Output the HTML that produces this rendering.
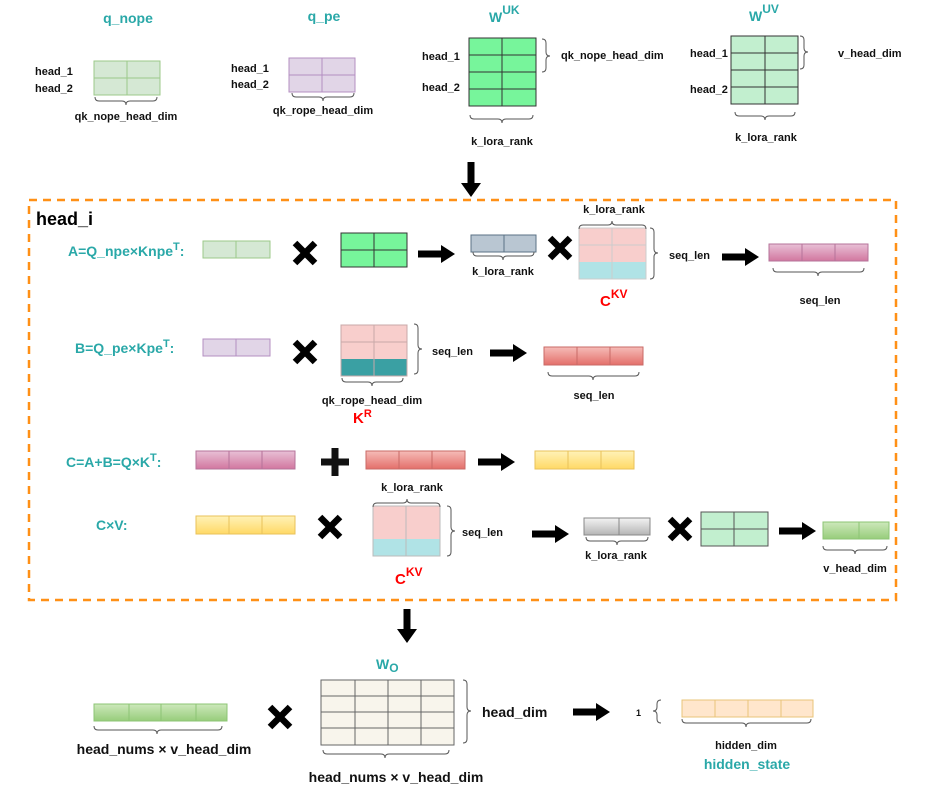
<!DOCTYPE html>
<html><head><meta charset="utf-8"><style>
html,body{margin:0;padding:0;background:#fff;}
svg{display:block;}
text{font-family:"Liberation Sans",Arial,sans-serif;font-weight:bold;}
.t{fill:#2aa8a8;font-size:14px;}
.k{fill:#111;font-size:11px;}
.r{fill:#ff0000;font-size:15px;}
.br{fill:none;stroke:#555;stroke-width:1;}
</style></head><body>
<svg width="926" height="806" viewBox="0 0 926 806" xmlns="http://www.w3.org/2000/svg">
<defs>
<linearGradient id="gM" x1="0" y1="0" x2="0" y2="1"><stop offset="0" stop-color="#e8c0d6"/><stop offset="1" stop-color="#d2779f"/></linearGradient>
<linearGradient id="gR" x1="0" y1="0" x2="0" y2="1"><stop offset="0" stop-color="#f6bcb8"/><stop offset="1" stop-color="#e46f6a"/></linearGradient>
<linearGradient id="gY" x1="0" y1="0" x2="0" y2="1"><stop offset="0" stop-color="#fff2b8"/><stop offset="1" stop-color="#ffd966"/></linearGradient>
<linearGradient id="gG" x1="0" y1="0" x2="0" y2="1"><stop offset="0" stop-color="#f3f3f3"/><stop offset="1" stop-color="#b5b5b5"/></linearGradient>
<linearGradient id="gN" x1="0" y1="0" x2="0" y2="1"><stop offset="0" stop-color="#cde8bb"/><stop offset="1" stop-color="#97cd7b"/></linearGradient>
</defs>

<!-- TOP ROW -->
<text class="t" x="128" y="23" text-anchor="middle" font-size="15">q_nope</text>
<text class="k" x="35" y="75">head_1</text>
<text class="k" x="35" y="92">head_2</text>
<g fill="#d5e8d4" stroke="#9cc98a" stroke-width="1">
<rect x="94" y="61" width="66" height="34"/><line x1="94" y1="78" x2="160" y2="78"/><line x1="127" y1="61" x2="127" y2="95"/></g>
<path class="br" d="M95,97 Q95,101 99,101 L122,101 Q126,101 126,105 Q126,101 130,101 L153,101 Q157,101 157,97"/>
<text class="k" x="126" y="120" text-anchor="middle">qk_nope_head_dim</text>

<text class="t" x="324" y="21" text-anchor="middle" font-size="15">q_pe</text>
<text class="k" x="231" y="72">head_1</text>
<text class="k" x="231" y="88">head_2</text>
<g fill="#e1d5e7" stroke="#b48fc2" stroke-width="1">
<rect x="289" y="58" width="66" height="34"/><line x1="289" y1="75" x2="355" y2="75"/><line x1="322" y1="58" x2="322" y2="92"/></g>
<path class="br" d="M292,93 Q292,97 296,97 L319,97 Q323,97 323,101 Q323,97 327,97 L350,97 Q354,97 354,93"/>
<text class="k" x="323" y="114" text-anchor="middle">qk_rope_head_dim</text>

<text class="t" x="489" y="22" font-size="18">W<tspan font-size="12" dy="-8">UK</tspan></text>
<text class="k" x="422" y="60">head_1</text>
<text class="k" x="422" y="91">head_2</text>
<g fill="#77f59b" stroke="#333" stroke-width="1">
<rect x="469" y="38" width="67" height="68"/><line x1="469" y1="55" x2="536" y2="55"/><line x1="469" y1="72" x2="536" y2="72"/><line x1="469" y1="89" x2="536" y2="89"/><line x1="502" y1="38" x2="502" y2="106"/></g>
<path class="br" d="M542,39 Q546,39 546,43 L546,52 Q546,56 550,56 Q546,56 546,60 L546,68 Q546,72 542,72"/>
<text class="k" x="561" y="59">qk_nope_head_dim</text>
<path class="br" d="M470,115 Q470,119 474,119 L498,119 Q502,119 502,123 Q502,119 506,119 L529,119 Q533,119 533,115"/>
<text class="k" x="502" y="145" text-anchor="middle">k_lora_rank</text>

<text class="t" x="749" y="21" font-size="18">W<tspan font-size="12" dy="-8">UV</tspan></text>
<text class="k" x="690" y="57">head_1</text>
<text class="k" x="690" y="93">head_2</text>
<g fill="#c2efcf" stroke="#333" stroke-width="1">
<rect x="731" y="36" width="67" height="68"/><line x1="731" y1="53" x2="798" y2="53"/><line x1="731" y1="70" x2="798" y2="70"/><line x1="731" y1="87" x2="798" y2="87"/><line x1="765" y1="36" x2="765" y2="104"/></g>
<path class="br" d="M800,36 Q804,36 804,40 L804,48 Q804,52 808,52 Q804,52 804,56 L804,65 Q804,69 800,69"/>
<text class="k" x="838" y="57">v_head_dim</text>
<path class="br" d="M735,112 Q735,116 739,116 L761,116 Q765,116 765,120 Q765,116 769,116 L791,116 Q795,116 795,112"/>
<text class="k" x="766" y="141" text-anchor="middle">k_lora_rank</text>

<!-- down arrow -->
<path transform="translate(471,162) rotate(90)" d="M0,-3.5 L21,-3.5 L21,-10 L35,0 L21,10 L21,3.5 L0,3.5Z" fill="#000"/>

<!-- dashed box -->
<rect x="29" y="200" width="867" height="400" fill="none" stroke="#ff9016" stroke-width="2.5" stroke-dasharray="8,6"/>
<text x="36" y="225" font-size="18" fill="#000">head_i</text>

<!-- ROW A -->
<text class="t" x="68" y="256">A=Q_npe×Knpe<tspan font-size="11" dy="-6">T</tspan><tspan dy="6">:</tspan></text>
<g fill="#d5e8d4" stroke="#9cc98a"><rect x="203" y="241" width="67" height="17"/><line x1="236" y1="241" x2="236" y2="258"/></g>
<g transform="translate(305,253)" stroke="#000" stroke-width="6.5"><line x1="-10" y1="-10" x2="10" y2="10"/><line x1="10" y1="-10" x2="-10" y2="10"/></g>
<g fill="#77f59b" stroke="#333"><rect x="341" y="233" width="66" height="34"/><line x1="341" y1="250" x2="407" y2="250"/><line x1="374" y1="233" x2="374" y2="267"/></g>
<path transform="translate(418,254)" d="M0,-3.5 L23,-3.5 L23,-9 L37,0 L23,9 L23,3.5 L0,3.5Z" fill="#000"/>
<g fill="#b9c6d2" stroke="#5b7285"><rect x="471" y="235" width="65" height="17"/><line x1="504" y1="235" x2="504" y2="252"/></g>
<path class="br" d="M473,252 Q473,256 477,256 L499,256 Q503,256 503,260 Q503,256 507,256 L530,256 Q534,256 534,252"/>
<text class="k" x="503" y="275" text-anchor="middle">k_lora_rank</text>
<g transform="translate(560,248)" stroke="#000" stroke-width="6.5"><line x1="-10" y1="-10" x2="10" y2="10"/><line x1="10" y1="-10" x2="-10" y2="10"/></g>
<rect x="579" y="228" width="67" height="34" fill="#f8cecc"/><rect x="579" y="262" width="67" height="17" fill="#b0e3e6"/>
<g stroke="#ccc" fill="none"><rect x="579" y="228" width="67" height="51"/><line x1="579" y1="245" x2="646" y2="245"/><line x1="612" y1="228" x2="612" y2="279"/></g>
<path class="br" d="M579,229 Q579,225 583,225 L608,225 Q612,225 612,221 Q612,225 616,225 L642,225 Q646,225 646,229"/>
<text class="k" x="614" y="213" text-anchor="middle">k_lora_rank</text>
<path class="br" d="M650,228 Q654,228 654,232 L654,249 Q654,253 658,253 Q654,253 654,257 L654,275 Q654,279 650,279"/>
<text class="k" x="669" y="259">seq_len</text>
<text class="r" x="600" y="306" font-size="17">C<tspan font-size="12" dy="-8">KV</tspan></text>
<path transform="translate(722,257)" d="M0,-3.5 L23,-3.5 L23,-9 L37,0 L23,9 L23,3.5 L0,3.5Z" fill="#000"/>
<g stroke="#b5739a"><rect x="769" y="244" width="99" height="17" fill="url(#gM)"/><line x1="802" y1="244" x2="802" y2="261"/><line x1="835" y1="244" x2="835" y2="261"/></g>
<path class="br" d="M773,268 Q773,272 777,272 L814,272 Q818,272 818,276 Q818,272 822,272 L860,272 Q864,272 864,268"/>
<text class="k" x="820" y="304" text-anchor="middle">seq_len</text>

<!-- ROW B -->
<text class="t" x="75" y="353">B=Q_pe×Kpe<tspan font-size="11" dy="-6">T</tspan><tspan dy="6">:</tspan></text>
<g fill="#e1d5e7" stroke="#b48fc2"><rect x="203" y="339" width="67" height="17"/><line x1="236" y1="339" x2="236" y2="356"/></g>
<g transform="translate(305,352)" stroke="#000" stroke-width="6.5"><line x1="-10" y1="-10" x2="10" y2="10"/><line x1="10" y1="-10" x2="-10" y2="10"/></g>
<rect x="341" y="325" width="66" height="34" fill="#f8cecc"/><rect x="341" y="359" width="66" height="17" fill="#3aa0a3"/>
<g stroke="#c8a8a8" fill="none"><rect x="341" y="325" width="66" height="51"/><line x1="341" y1="342" x2="407" y2="342"/><line x1="374" y1="325" x2="374" y2="376"/></g>
<path class="br" d="M414,324 Q418,324 418,328 L418,345 Q418,349 422,349 Q418,349 418,353 L418,370 Q418,374 414,374"/>
<text class="k" x="432" y="355">seq_len</text>
<path class="br" d="M342,378 Q342,382 346,382 L368,382 Q372,382 372,386 Q372,382 376,382 L399,382 Q403,382 403,378"/>
<text class="k" x="372" y="404" text-anchor="middle">qk_rope_head_dim</text>
<text class="r" x="353" y="423">K<tspan font-size="11" dy="-6">R</tspan></text>
<path transform="translate(490,353)" d="M0,-3.5 L23,-3.5 L23,-9 L37,0 L23,9 L23,3.5 L0,3.5Z" fill="#000"/>
<g stroke="#c96a66"><rect x="544" y="347" width="99" height="18" fill="url(#gR)"/><line x1="577" y1="347" x2="577" y2="365"/><line x1="610" y1="347" x2="610" y2="365"/></g>
<path class="br" d="M548,372 Q548,376 552,376 L589,376 Q593,376 593,380 Q593,376 597,376 L635,376 Q639,376 639,372"/>
<text class="k" x="594" y="399" text-anchor="middle">seq_len</text>

<!-- ROW C -->
<text class="t" x="66" y="467">C=A+B=Q×K<tspan font-size="11" dy="-6">T</tspan><tspan dy="6">:</tspan></text>
<g stroke="#b5739a"><rect x="196" y="451" width="99" height="18" fill="url(#gM)"/><line x1="229" y1="451" x2="229" y2="469"/><line x1="262" y1="451" x2="262" y2="469"/></g>
<g transform="translate(335,462)" stroke="#111" stroke-width="7"><line x1="-14" y1="0" x2="14" y2="0"/><line x1="0" y1="-14" x2="0" y2="14"/></g>
<g stroke="#c96a66"><rect x="366" y="451" width="99" height="18" fill="url(#gR)"/><line x1="399" y1="451" x2="399" y2="469"/><line x1="432" y1="451" x2="432" y2="469"/></g>
<path transform="translate(478,462)" d="M0,-3.5 L23,-3.5 L23,-9 L37,0 L23,9 L23,3.5 L0,3.5Z" fill="#000"/>
<g stroke="#e8c25a"><rect x="535" y="451" width="99" height="18" fill="url(#gY)"/><line x1="568" y1="451" x2="568" y2="469"/><line x1="601" y1="451" x2="601" y2="469"/></g>

<!-- ROW CxV -->
<text class="t" x="96" y="530">C×V:</text>
<g stroke="#e8c25a"><rect x="196" y="516" width="99" height="18" fill="url(#gY)"/><line x1="229" y1="516" x2="229" y2="534"/><line x1="262" y1="516" x2="262" y2="534"/></g>
<g transform="translate(330,527)" stroke="#000" stroke-width="6.5"><line x1="-10" y1="-10" x2="10" y2="10"/><line x1="10" y1="-10" x2="-10" y2="10"/></g>
<rect x="373" y="506" width="67" height="33" fill="#f8cecc"/><rect x="373" y="539" width="67" height="17" fill="#b0e3e6"/>
<g stroke="#bbb" fill="none"><rect x="373" y="506" width="67" height="50"/><line x1="406" y1="506" x2="406" y2="556"/></g>
<path class="br" d="M373,507 Q373,503 377,503 L403,503 Q407,503 407,499 Q407,503 411,503 L436,503 Q440,503 440,507"/>
<text class="k" x="412" y="491" text-anchor="middle">k_lora_rank</text>
<path class="br" d="M447,506 Q451,506 451,510 L451,527 Q451,531 455,531 Q451,531 451,535 L451,552 Q451,556 447,556"/>
<text class="k" x="462" y="536">seq_len</text>
<text class="r" x="395" y="584" font-size="17">C<tspan font-size="12" dy="-8">KV</tspan></text>
<path transform="translate(532,534)" d="M0,-3.5 L23,-3.5 L23,-9 L37,0 L23,9 L23,3.5 L0,3.5Z" fill="#000"/>
<g stroke="#888"><rect x="584" y="518" width="66" height="17" fill="url(#gG)"/><line x1="619" y1="518" x2="619" y2="535"/></g>
<path class="br" d="M586,537 Q586,541 590,541 L613,541 Q617,541 617,545 Q617,541 621,541 L644,541 Q648,541 648,537"/>
<text class="k" x="616" y="559" text-anchor="middle">k_lora_rank</text>
<g transform="translate(680,529)" stroke="#000" stroke-width="6.5"><line x1="-10" y1="-10" x2="10" y2="10"/><line x1="10" y1="-10" x2="-10" y2="10"/></g>
<g fill="#c2efcf" stroke="#555"><rect x="701" y="512" width="67" height="34"/><line x1="701" y1="529" x2="768" y2="529"/><line x1="734" y1="512" x2="734" y2="546"/></g>
<path transform="translate(779,531)" d="M0,-3.5 L23,-3.5 L23,-9 L37,0 L23,9 L23,3.5 L0,3.5Z" fill="#000"/>
<g stroke="#8cc474"><rect x="823" y="522" width="66" height="17" fill="url(#gN)"/><line x1="859" y1="522" x2="859" y2="539"/></g>
<path class="br" d="M823,546 Q823,550 827,550 L851,550 Q855,550 855,554 Q855,550 859,550 L883,550 Q887,550 887,546"/>
<text class="k" x="855" y="572" text-anchor="middle">v_head_dim</text>

<!-- BOTTOM -->
<path transform="translate(407,609) rotate(90)" d="M0,-3.5 L20,-3.5 L20,-10 L34,0 L20,10 L20,3.5 L0,3.5Z" fill="#000"/>
<text class="t" x="376" y="669" font-size="18">W<tspan font-size="12" dy="3">O</tspan></text>
<g fill="#f8f5ec" stroke="#666"><rect x="321" y="680" width="133" height="65"/>
<line x1="321" y1="696" x2="454" y2="696"/><line x1="321" y1="712" x2="454" y2="712"/><line x1="321" y1="728" x2="454" y2="728"/>
<line x1="355" y1="680" x2="355" y2="745"/><line x1="388" y1="680" x2="388" y2="745"/><line x1="421" y1="680" x2="421" y2="745"/></g>
<path class="br" d="M463,680 Q467,680 467,684 L467,707 Q467,711 471,711 Q467,711 467,715 L467,739 Q467,743 463,743"/>
<text x="482" y="717" font-size="14" fill="#111">head_dim</text>
<path class="br" d="M323,750 Q323,754 327,754 L381,754 Q385,754 385,758 Q385,754 389,754 L445,754 Q449,754 449,750"/>
<text x="396" y="782" font-size="14" fill="#111" text-anchor="middle">head_nums × v_head_dim</text>

<g stroke="#8cc474"><rect x="94" y="704" width="133" height="17" fill="url(#gN)"/><line x1="129" y1="704" x2="129" y2="721"/><line x1="161" y1="704" x2="161" y2="721"/><line x1="196" y1="704" x2="196" y2="721"/></g>
<path class="br" d="M94,726 Q94,730 98,730 L153,730 Q157,730 157,734 Q157,730 161,730 L218,730 Q222,730 222,726"/>
<text x="164" y="754" font-size="14" fill="#111" text-anchor="middle">head_nums × v_head_dim</text>
<g transform="translate(280,717)" stroke="#000" stroke-width="6.5"><line x1="-10" y1="-10" x2="10" y2="10"/><line x1="10" y1="-10" x2="-10" y2="10"/></g>

<path transform="translate(573,712)" d="M0,-3.5 L23,-3.5 L23,-9 L37,0 L23,9 L23,3.5 L0,3.5Z" fill="#000"/>
<text x="636" y="716" font-size="9" fill="#111">1</text>
<path class="br" d="M661,700 Q657,700 657,704 L657,707 Q657,711 653,711 Q657,711 657,715 L657,719 Q657,723 661,723"/>
<g fill="#ffe6cc" stroke="#e8c47a"><rect x="682" y="700" width="131" height="17"/><line x1="715" y1="700" x2="715" y2="717"/><line x1="748" y1="700" x2="748" y2="717"/><line x1="781" y1="700" x2="781" y2="717"/></g>
<path class="br" d="M682,719 Q682,723 686,723 L742,723 Q746,723 746,727 Q746,723 750,723 L807,723 Q811,723 811,719"/>
<text class="k" x="746" y="749" text-anchor="middle">hidden_dim</text>
<text class="t" x="747" y="769" text-anchor="middle" font-size="15">hidden_state</text>
</svg>
</body></html>
